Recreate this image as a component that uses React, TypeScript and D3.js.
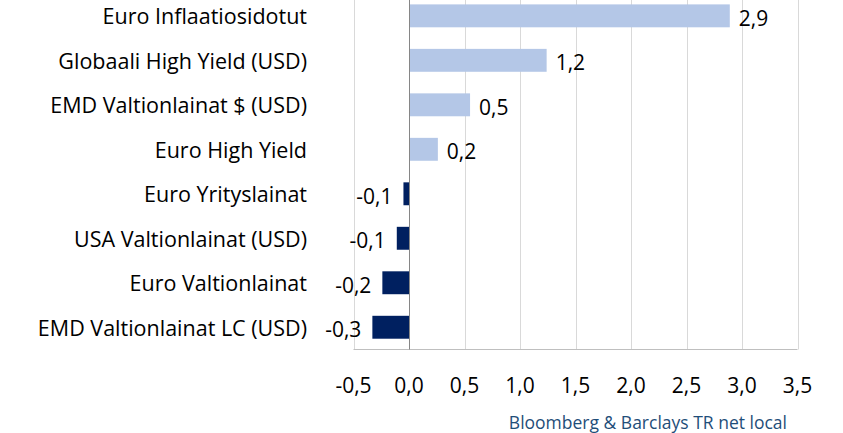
import { useEffect, useRef } from "react";
import * as d3 from "d3";

const categories = [
  "Euro Inflaatiosidotut",
  "Globaali High Yield (USD)",
  "EMD Valtionlainat $ (USD)",
  "Euro High Yield",
  "Euro Yrityslainat",
  "USA Valtionlainat (USD)",
  "Euro Valtionlainat",
  "EMD Valtionlainat LC (USD)",
];
const values = [2.89, 1.24, 0.55, 0.26, -0.05, -0.11, -0.24, -0.33];
const valueLabels = ["2,9", "1,2", "0,5", "0,2", "-0,1", "-0,1", "-0,2", "-0,3"];
const ticks = [-0.5, 0, 0.5, 1, 1.5, 2, 2.5, 3, 3.5];
const source = "Bloomberg & Barclays TR net local";

export default function App() {
  const svgRef = useRef<SVGSVGElement>(null);

  useEffect(() => {
    const width = 843;
    const height = 433;
    const font = "'Open Sans', 'Noto Sans', sans-serif";

    const svg = d3.select(svgRef.current).attr("width", width).attr("height", height);
    svg.selectAll("*").remove();

    const x = d3.scaleLinear().domain([-0.5, 3.5]).range([353.5, 797.5]);
    const y = d3
      .scaleBand()
      .domain(categories)
      .range([-6.4, 349.5])
      .paddingInner(0.485)
      .paddingOuter(0.2425);

    // gridlines
    svg
      .append("g")
      .selectAll("line")
      .data(ticks.filter((t) => t !== 0))
      .enter()
      .append("line")
      .attr("x1", (d) => Math.round(x(d)) + 0.5)
      .attr("x2", (d) => Math.round(x(d)) + 0.5)
      .attr("y1", 0)
      .attr("y2", 349.5)
      .attr("stroke", "#d9d9d9")
      .attr("stroke-width", 1);

    // bottom axis line
    svg
      .append("line")
      .attr("x1", x(-0.5))
      .attr("x2", x(3.5))
      .attr("y1", 349.5)
      .attr("y2", 349.5)
      .attr("stroke", "#bfbfbf");

    // bars
    svg
      .selectAll(".bar")
      .data(values)
      .enter()
      .append("rect")
      .attr("class", "bar")
      .attr("x", (d) => x(Math.min(0, d)))
      .attr("y", (d, i) => y(categories[i])!)
      .attr("width", (d) => Math.abs(x(d) - x(0)))
      .attr("height", y.bandwidth())
      .attr("fill", (d) => (d >= 0 ? "#b4c7e7" : "#002060"));

    // zero line
    svg
      .append("line")
      .attr("x1", Math.round(x(0)) + 0.5)
      .attr("x2", Math.round(x(0)) + 0.5)
      .attr("y1", 0)
      .attr("y2", 349.5)
      .attr("stroke", "#868686");

    // value labels
    svg
      .selectAll(".val")
      .data(values)
      .enter()
      .append("text")
      .attr("class", "val")
      .attr("x", (d) => (d >= 0 ? x(d) + 9 : x(d) - 11))
      .attr("y", (d, i) => y(categories[i])! + y.bandwidth() / 2 + 2)
      .attr("dominant-baseline", "central")
      .attr("text-anchor", (d) => (d >= 0 ? "start" : "end"))
      .attr("font-family", font)
      .attr("font-size", "21px")
      .attr("fill", "#000")
      .text((d, i) => valueLabels[i]);

    // category labels
    svg
      .selectAll(".cat")
      .data(categories)
      .enter()
      .append("text")
      .attr("class", "cat")
      .attr("x", 307)
      .attr("y", (d) => y(d)! + y.bandwidth() / 2)
      .attr("dominant-baseline", "central")
      .attr("text-anchor", "end")
      .attr("font-family", font)
      .attr("font-size", "21.5px")
      .attr("fill", "#000")
      .text((d) => d);

    // x tick labels
    svg
      .selectAll(".tick")
      .data(ticks)
      .enter()
      .append("text")
      .attr("class", "tick")
      .attr("x", (d) => x(d))
      .attr("y", 385)
      .attr("dominant-baseline", "central")
      .attr("text-anchor", "middle")
      .attr("font-family", font)
      .attr("font-size", "21px")
      .attr("fill", "#000")
      .text((d) => d3.format(".1f")(d).replace(".", ",").replace("−", "-"));

    svg
      .append("text")
      .attr("x", 787)
      .attr("y", 422)
      .attr("dominant-baseline", "central")
      .attr("text-anchor", "end")
      .attr("font-family", font)
      .attr("font-size", "17.5px")
      .attr("fill", "#1f4e79")
      .text(source);
  }, []);

  return (
    <div>
      <svg ref={svgRef} style={{ position: "absolute", left: 0, top: 0 }}></svg>
    </div>
  );
}
